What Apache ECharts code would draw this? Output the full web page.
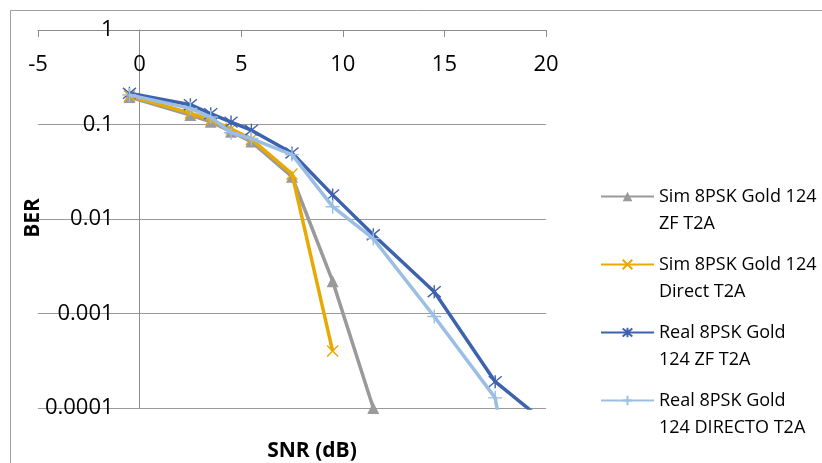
<!DOCTYPE html>
<html>
<head>
<meta charset="utf-8">
<script src="https://cdn.jsdelivr.net/npm/echarts@6/dist/echarts.min.js"></script>
<style>
html,body{margin:0;padding:0;background:#fff;}
#c{width:822px;height:463px;}
</style>
</head>
<body>
<div id="c"></div>
<script>
// ---- data ----
var snr = [-0.5, 2.5, 3.5, 4.5, 5.5, 7.5, 9.5, 11.5, 14.5, 17.5, 19.5];
var simZF = [0.195, 0.126, 0.107, 0.084, 0.066, 0.028, 0.0022, 0.0001];
var simDirect = [0.2, 0.132, 0.112, 0.09, 0.07, 0.03, 0.0004];
var realZF = [0.214, 0.162, 0.13, 0.106, 0.087, 0.05, 0.018, 0.0068, 0.0017, 0.00019, 0.000085];
var realDirecto = [0.205, 0.148, 0.12, 0.082, 0.071, 0.048, 0.0135, 0.0062, 0.00093, 0.000128, 0.0000004];
var seriesNames = ['Sim 8PSK Gold 124 ZF T2A', 'Sim 8PSK Gold 124 Direct T2A', 'Real 8PSK Gold 124 ZF T2A', 'Real 8PSK Gold 124 DIRECTO T2A'];
var legendLines = [['Sim 8PSK Gold 124', 'ZF T2A'], ['Sim 8PSK Gold 124', 'Direct T2A'], ['Real 8PSK Gold', '124 ZF T2A'], ['Real 8PSK Gold', '124 DIRECTO T2A']];
var yTickLabels = ['0.0001', '0.001', '0.01', '0.1', '1'];
var xTitle = 'SNR (dB)';
var yTitle = 'BER';

var colors = ['#9a9a9a', '#E8A900', '#3D62AE', '#9BBFE4'];
var symbols = [
  'triangle',
  'path://M0,0L10,10M10,0L0,10',
  'path://M0,0L10,10M10,0L0,10M5,-1L5,11',
  'path://M5,0L5,10M0,5L10,5'
];
var symbolSizes = [12, 11, 13, 14];
var allData = [simZF, simDirect, realZF, realDirecto];

function pairs(vals) { return vals.map(function (v, i) { return [snr[i], v]; }); }

var FONT = 'Open Sans';
var GRID_L = 38, GRID_R = 546;
// y axis crosses the x axis at SNR = 0
var yAxisOffset = -(GRID_R - GRID_L) * (0 - (-5)) / 25;

var series = allData.map(function (vals, k) {
  var isTri = k === 0;
  return {
    name: seriesNames[k],
    type: 'line',
    data: pairs(vals),
    symbol: symbols[k],
    symbolSize: symbolSizes[k],
    showAllSymbol: true,
    clip: true,
    lineStyle: { color: colors[k], width: 3.5 },
    itemStyle: isTri ? { color: colors[k] } : { color: colors[k], borderColor: colors[k], borderWidth: 1.4 },
    emphasis: { disabled: true },
    z: 2 + k
  };
});

var chart = echarts.init(document.getElementById('c'), null, { renderer: 'canvas' });
chart.setOption({
  animation: false,
  backgroundColor: '#fff',
  grid: { left: GRID_L, right: 822 - GRID_R, top: 30, bottom: 55, containLabel: false, outerBoundsMode: 'none' },
  xAxis: {
    type: 'value', position: 'top', min: -5, max: 20, interval: 5,
    axisLine: { show: true, onZero: false, lineStyle: { color: '#8c8c8c', width: 1 } },
    axisTick: { show: true, inside: true, length: 7, lineStyle: { color: '#8c8c8c' } },
    axisLabel: { inside: true, margin: 24, color: '#000', fontFamily: FONT, fontSize: 22 },
    splitLine: { show: false }
  },
  yAxis: {
    type: 'log', logBase: 10, min: 0.0001, max: 1,
    offset: yAxisOffset,
    axisLine: { show: true, onZero: false, lineStyle: { color: '#8c8c8c', width: 1 } },
    axisTick: { show: false },
    axisLabel: {
      margin: 26, color: '#000', fontFamily: FONT, fontSize: 22,
      formatter: function (v, i) { return yTickLabels[Math.round(Math.log10(v)) + 4]; }
    },
    splitLine: { show: true, lineStyle: { color: '#9a9a9a', width: 1 } },
    minorTick: { show: false }
  },
  legend: {
    orient: 'vertical', left: 600, top: 156, padding: 0,
    itemWidth: 53, itemHeight: 12, itemGap: -13,
    data: seriesNames,
    formatter: function (name) {
      var l = legendLines[seriesNames.indexOf(name)];
      return '\n' + l[0] + '\n' + l[1];
    },
    textStyle: { fontFamily: FONT, fontSize: 18, color: '#000', lineHeight: 27 },
    selectedMode: false
  },
  graphic: [
    { type: 'rect', shape: { x: 10.5, y: 10.5, width: 900, height: 600 }, style: { fill: 'none', stroke: '#a0a0a0', lineWidth: 1 }, silent: true, z: -10 },
    { type: 'text', x: 33, y: 218, rotation: Math.PI / 2, style: { text: yTitle, font: 'bold 21px "' + FONT + '"', fill: '#000', textAlign: 'center', textVerticalAlign: 'middle' } },
    { type: 'text', x: 312, y: 451, style: { text: xTitle, font: 'bold 21px "' + FONT + '"', fill: '#000', textAlign: 'center', textVerticalAlign: 'middle' } }
  ],
  series: series
});
</script>
</body>
</html>
